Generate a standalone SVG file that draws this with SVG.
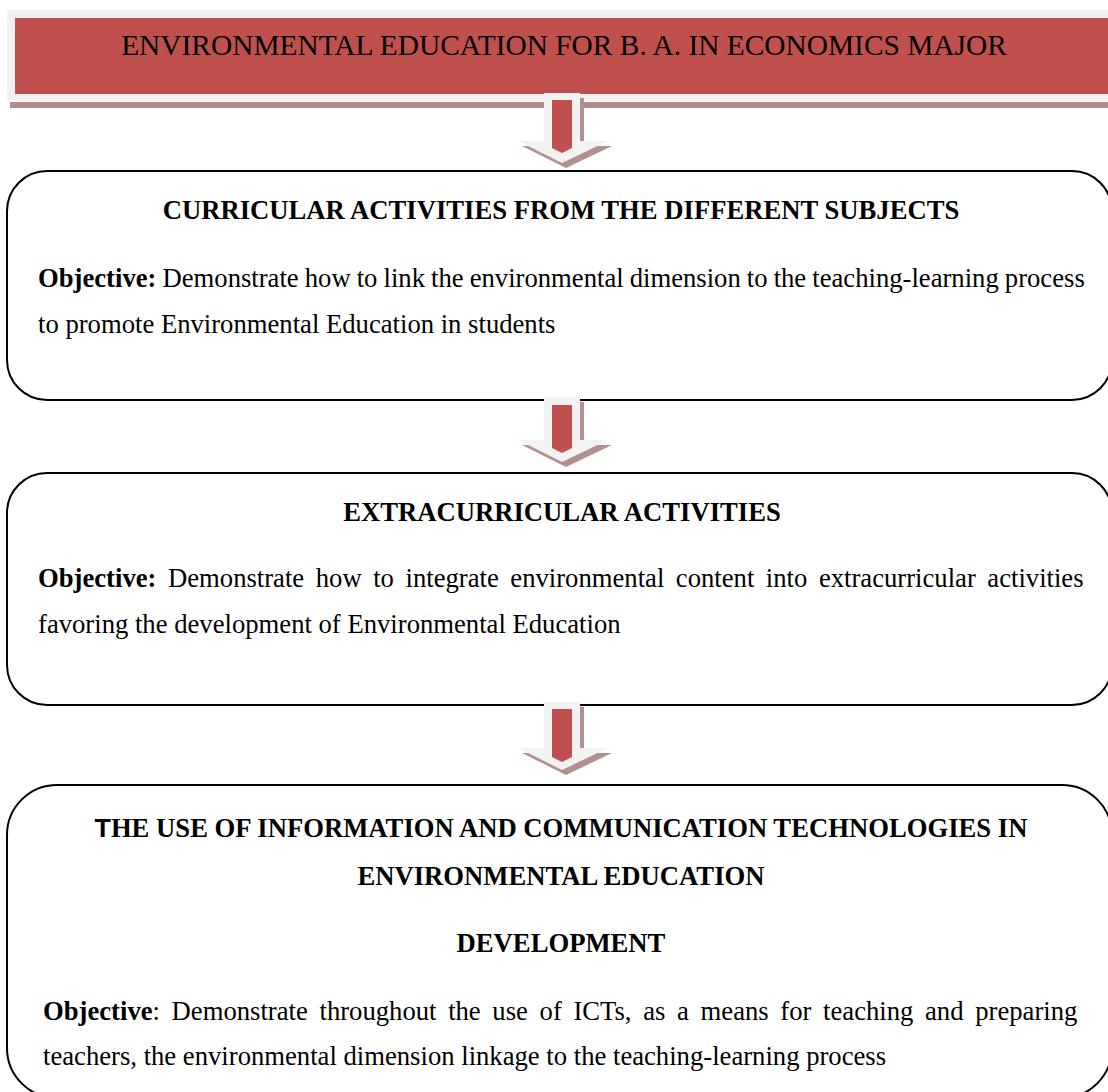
<svg xmlns="http://www.w3.org/2000/svg" width="1108" height="1092" viewBox="0 0 1108 1092">
<defs>
<style>
.t{font-family:"Liberation Serif","Times New Roman",serif;fill:#000;}
.h{font-size:29.4px;text-anchor:middle;}
.b{font-size:26.67px;font-weight:bold;text-anchor:middle;}
.p{font-size:26.67px;}
.box{fill:#fff;stroke:#000;stroke-width:2;}
.ag{fill:#f2f2f2;}
.as{fill:#b38f8f;}
.ar{fill:#c0504d;}
</style>
</defs>
<rect width="1108" height="1092" fill="#fff"/>
<g id="header">
<rect x="10" y="102" width="1110" height="6" fill="#b08d8d"/>
<rect x="7" y="10" width="1110" height="91" fill="#f2f2f2"/>
<rect x="15" y="18" width="1100" height="76" fill="#c0504d"/>
<text class="t h" x="564" y="55">ENVIRONMENTAL EDUCATION FOR B. A. IN ECONOMICS MAJOR</text>
</g>
<g id="curricular">
<rect class="box" x="7" y="171" width="1105" height="229" rx="40" ry="40"/>
<text class="t b" x="561" y="219">CURRICULAR ACTIVITIES FROM THE DIFFERENT SUBJECTS</text>
<text class="t p" x="38" y="287" word-spacing="-0.6"><tspan font-weight="bold">Objective:</tspan> Demonstrate how to link the environmental dimension to the teaching-learning process</text>
<text class="t p" x="38" y="333">to promote Environmental Education in students</text>
</g>
<g id="extracurricular">
<rect class="box" x="7" y="473" width="1105" height="232" rx="40" ry="40"/>
<text class="t b" x="562" y="521">EXTRACURRICULAR ACTIVITIES</text>
<text class="t p" x="38" y="587" word-spacing="4.9"><tspan font-weight="bold">Objective:</tspan> Demonstrate how to integrate environmental content into extracurricular activities</text>
<text class="t p" x="38" y="633">favoring the development of Environmental Education</text>
</g>
<g id="ict">
<rect class="box" x="7" y="785" width="1105" height="313" rx="50" ry="50"/>
<text class="t b" x="561" y="837"><tspan font-family="Liberation Sans, Arial, sans-serif">T</tspan>HE USE OF INFORMATION AND COMMUNICATION TECHNOLOGIES IN</text>
<text class="t b" x="561" y="885">ENVIRONMENTAL EDUCATION</text>
<text class="t b" x="561" y="952">DEVELOPMENT</text>
<text class="t p" x="43" y="1020" word-spacing="5"><tspan font-weight="bold">Objective</tspan>: Demonstrate throughout the use of ICTs, as a means for teaching and preparing</text>
<text class="t p" x="43" y="1065">teachers, the environmental dimension linkage to the teaching-learning process</text>
</g>
<g id="connectors">
<g id="arrow1">
<path class="as" transform="translate(4,5)" d="M544 93 H580 V141 H608 L562 163 L518 141 H544 Z"/>
<path class="ag" d="M544 93 H580 V141 H608 L562 163 L518 141 H544 Z"/>
<path class="ar" d="M552 100 H572 V148 L562 153 L552 148 Z"/>
</g>
<g id="arrow2">
<path class="as" transform="translate(4,5)" d="M544 397 H580 V440 H608 L562 462 L518 440 H544 Z"/>
<path class="ag" d="M544 397 H580 V440 H608 L562 462 L518 440 H544 Z"/>
<path class="ar" d="M552 405 H572 V448 L562 453 L552 448 Z"/>
</g>
<g id="arrow3">
<path class="as" transform="translate(4,5)" d="M544 702 H580 V748 H608 L562 770 L518 748 H544 Z"/>
<path class="ag" d="M544 702 H580 V748 H608 L562 770 L518 748 H544 Z"/>
<path class="ar" d="M552 709 H572 V757 L562 762 L552 757 Z"/>
</g>
</g>
</svg>
